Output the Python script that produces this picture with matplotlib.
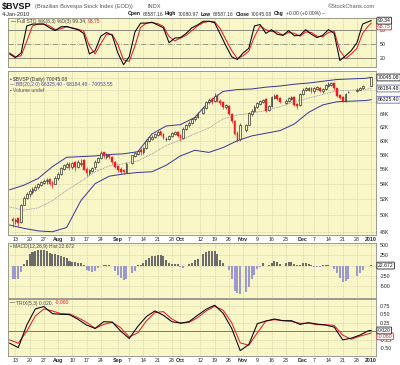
import numpy as np
import pandas as pd
import matplotlib
matplotlib.use('Agg')
import matplotlib.pyplot as plt
import matplotlib.transforms as mtransforms
from matplotlib import font_manager

# ---------------- data ----------------
dates = pd.bdate_range('2009-07-09', '2010-01-04')   # weekday slots; None = no session

opens = [None, 49500, 49300, 49600, 49200, 51300, 52100, 52600, 52900, 53200,
         53500, 53800, 54100, 54300, 54600, 54200, 54000, 54700, 55300, 56000,
         56300, 56700, 56200, 56900, 56300, 56600, 57200, 56000, 55400, 55700,
         56200, 57000, 57500, 58300, 57700, 58000, 57700, 57000, 56400, 56000,
         55900, 55600, None, 56800, 57800, 58100, 58700, 58300, 58900, 60000,
         60300, 60600, 60900, 61400, 61000, 60200, 60300, 60700, 61000, 61300,
         60900, 60400, 61800, 62300, 62700, 63200, 63600, None, 64200, 65000,
         65900, 66400, 66200, 67100, 66100, 65900, 65100, 65300, 64000, 63000,
         61200, 60200, None, 61600, 62400, 64000, 64600, 65200, 65700, 66000,
         66400, 64700, 65300, 66600, 67100, 66600, None, 65800, 66100, 66500,
         66800, 65600, 65400, 67300, 67900, 68000, 68300, 67700, 68100, 68300,
         67700, 68100, 68600, 68800, 69100, 68200, 67100, 66700, 66100, 67550,
         None, None, 67800, 68000, 68300, None, None, 68587.16]
highs = [None, 49800, 49700, 49700, 51400, 52400, 52900, 53300, 53500, 53800,
         54100, 54400, 54600, 54800, 54800, 54400, 55000, 55500, 56300, 56700,
         56900, 56900, 57000, 57100, 57200, 57300, 57400, 56200, 56000, 56300,
         57200, 57700, 58500, 58400, 58200, 58100, 57800, 57100, 56500, 56200,
         56000, 56900, None, 58000, 58400, 58700, 58900, 59100, 60200, 60700,
         60800, 61200, 61500, 61500, 61100, 60600, 60900, 61300, 61500, 61400,
         61000, 62000, 62500, 62900, 63400, 63800, 64300, None, 65200, 66200,
         66600, 66700, 67500, 67200, 66400, 66000, 65700, 65400, 64200, 63100,
         61400, 62600, None, 62500, 64400, 64800, 65400, 66000, 66300, 66500,
         66600, 65500, 66900, 67300, 67200, 66700, None, 66400, 66800, 67000,
         67000, 65800, 67500, 68200, 68500, 68500, 68400, 68400, 68600, 68400,
         68300, 68900, 69200, 69300, 69200, 68300, 67300, 66900, 67400, 67800,
         None, None, 68200, 68400, 68700, None, None, 70080.97]
lows = [None, 48600, 48900, 48700, 49100, 51200, 52000, 52300, 52700, 53000,
        53300, 53700, 53900, 54000, 53800, 53400, 53900, 54500, 55200, 55800,
        56100, 55900, 56000, 55700, 56100, 56400, 55800, 55000, 55100, 55500,
        56000, 56800, 57300, 57500, 57400, 57300, 56700, 56100, 55600, 55300,
        55300, 55400, None, 56600, 57600, 57900, 58000, 58100, 58800, 59800,
        60100, 60400, 60700, 60700, 60200, 59900, 60100, 60500, 60800, 60500,
        59900, 60200, 61600, 62100, 62500, 63000, 63400, None, 64000, 64800,
        65600, 65700, 66000, 65900, 65500, 64900, 64900, 63900, 62600, 60800,
        59800, 60000, None, 61300, 62300, 63800, 64400, 65000, 65500, 65800,
        64300, 64500, 65100, 66400, 66300, 65800, None, 65600, 65900, 66300,
        65300, 64900, 65300, 67100, 67700, 67800, 67500, 67500, 67900, 67600,
        67500, 67900, 68400, 68600, 68000, 66800, 66400, 65900, 65900, 67400,
        None, None, 67600, 67900, 68100, None, None, 68587.16]
closes = [None, 49300, 49400, 49000, 51250, 52200, 52700, 53000, 53300, 53600,
          53900, 54200, 54400, 54500, 54000, 53800, 54800, 55300, 56100, 56500,
          56600, 56200, 56800, 56200, 57000, 56800, 55900, 55400, 55800, 56100,
          57000, 57500, 58200, 57800, 57900, 57600, 56900, 56300, 55900, 55600,
          55500, 56700, None, 57900, 58200, 58500, 58300, 58900, 60000, 60500,
          60600, 61000, 61300, 60900, 60400, 60300, 60700, 61100, 61300, 60700,
          60400, 61800, 62300, 62700, 63200, 63600, 64100, None, 65000, 66000,
          66300, 66000, 67000, 66200, 65800, 65200, 65400, 64100, 62900, 61000,
          60000, 62400, None, 62300, 64200, 64600, 65200, 65800, 66100, 66300,
          64600, 65300, 66700, 67000, 66500, 66000, None, 66200, 66600, 66800,
          65500, 65300, 67300, 68000, 68300, 68200, 67700, 68200, 68400, 67800,
          68100, 68700, 69000, 69100, 68200, 67000, 66600, 66100, 67200, 67600,
          None, None, 68000, 68300, 68588.41, None, None, 70045.08]

# Bollinger Bands (20,2) read every 5th slot plus the last day
bb_upper = [53200, 53800, 54700, 56300, 57600, 57700, 57800, 58000, 58100, 58400,
            61000, 62200, 62400, 63500, 66000, 67700, 68000, 68100, 68400, 68600,
            68900, 69100, 69400, 69700, 69800, 69900, 70053.55]
bb_mid = [51000, 50600, 50900, 51800, 53100, 54300, 55600, 56400, 56700, 57100,
          58100, 59300, 60100, 61000, 61900, 63300, 63900, 64200, 64600, 65200,
          66000, 66600, 67200, 67800, 67900, 68000, 68184.48]
bb_lower = [48800, 48400, 48100, 48000, 48500, 51800, 54000, 55000, 55300, 55500,
            55600, 56500, 57800, 58600, 58300, 59000, 60000, 60700, 61100, 61500,
            62500, 64300, 65500, 66000, 66100, 66200, 66325.40]

# Full Stochastic %K / %D, read every 2nd slot plus the last day
sto_k = [28, 20, 30, 88, 92, 92, 92, 84, 78, 86,
         87, 83, 80, 72, 28, 35, 66, 74, 68, 30,
         5, 22, 75, 94, 94, 96, 90, 84, 52, 62,
         63, 72, 84, 90, 98, 98, 95, 70, 45, 22,
         16, 30, 40, 88, 91, 72, 80, 70, 68, 78,
         67, 68, 80, 70, 63, 68, 80, 72, 14, 24,
         35, 52, 92, 97, 99.34]
sto_d = [30, 22, 24, 55, 88, 92, 92, 88, 80, 82,
         86, 84, 81, 77, 45, 28, 50, 70, 70, 48,
         15, 12, 45, 85, 94, 95, 93, 87, 65, 56,
         62, 68, 78, 88, 95, 98, 97, 82, 58, 35,
         18, 24, 34, 65, 88, 80, 76, 75, 68, 74,
         72, 66, 75, 74, 66, 65, 74, 77, 35, 18,
         28, 40, 72, 88, 93.75]

# MACD(12,26,9) histogram, one bar per session
macd_hist = [None, -320, -320, -320, -150, 40, 134, 275, 330, 354,
             370, 370, 370, 346, 307, 290, 275, 250, 228, 212,
             173, 118, 94, 86, 70, 55, 16, -102, -141, -157,
             -126, -63, -8, 4, 5, 3, -5, -141, -220, -300,
             -354, -322, None, -181, -140, 5, 16, 70, 134, 196,
             228, 244, 250, 250, 236, 134, 55, 47, 47, 40,
             -24, -55, -8, 40, 55, 134, 157, None, 275, 330,
             354, 354, 354, 290, 134, 55, -8, -102, -338, -613,
             -676, -690, None, -652, -534, -338, -220, -86, -24, 70,
             -8, 3, 55, 110, 94, 40, None, 55, 86, 94,
             31, 2, 16, 55, 55, 40, 3, -24, -40, -24,
             2, 16, 8, -8, -86, -181, -300, -400, -377, -322,
             None, None, -260, -181, -118, None, None, 22.672]

# TRIX(5,3) and its signal, read every 3rd slot plus the last day
trix = [-0.36, -0.49, 0.18, 0.66, 0.73, 0.52, 0.50, 0.49, 0.35, 0.18,
        0.08, 0.28, 0.27, 0.00, -0.22, 0.14, 0.43, 0.60, 0.47, 0.28,
        0.24, 0.28, 0.47, 0.65, 0.77, 0.53, 0.08, -0.58, -0.40, 0.22,
        0.30, 0.36, 0.31, 0.31, 0.20, 0.25, 0.21, 0.18, 0.12, -0.26,
        -0.21, -0.12, 0.01, 0.020]
trix_sig = [-0.26, -0.36, 0.0, 0.45, 0.66, 0.60, 0.52, 0.51, 0.40, 0.26,
            0.08, 0.20, 0.26, 0.10, -0.17, -0.05, 0.30, 0.55, 0.58, 0.36,
            0.23, 0.26, 0.40, 0.60, 0.74, 0.62, 0.25, -0.35, -0.42, -0.05,
            0.30, 0.34, 0.31, 0.29, 0.23, 0.24, 0.19, 0.19, 0.17, -0.12,
            -0.24, -0.15, -0.08, -0.060]

tick_dates = ['2009-07-13', '2009-07-20', '2009-07-27', '2009-08-03', '2009-08-10',
              '2009-08-17', '2009-08-24', '2009-09-01', '2009-09-07', '2009-09-14',
              '2009-09-21', '2009-09-28', '2009-10-01', '2009-10-12', '2009-10-19',
              '2009-10-26', '2009-11-02', '2009-11-09', '2009-11-16', '2009-11-23',
              '2009-12-01', '2009-12-07', '2009-12-14', '2009-12-21', '2009-12-28',
              '2010-01-04']
tick_labels = ['13', '20', '27', 'Aug', '10', '17', '24', 'Sep', '7', '14', '21', '28',
               'Oct', '12', '19', '26', 'Nov', '9', '16', '23', 'Dec', '7', '14', '21',
               '28', '2010']
bold_labels = {'Aug', 'Sep', 'Oct', 'Nov', 'Dec', '2010'}
main_ticks = [48000, 50000, 52000, 54000, 56000, 58000, 60000, 62000, 64000, 66000, 68000, 70000]
main_tick_labels = ['48K', '50K', '52K', '54K', '56K', '58K', '60K', '62K', '64K', '', '', '']

# ---------------- fonts ----------------
names = {f.name for f in font_manager.fontManager.ttflist}
NARROW = 'Liberation Sans Narrow' in names
plt.rcParams['font.family'] = (['Liberation Sans Narrow'] if NARROW else ['Liberation Sans']) + ['DejaVu Sans']
K = 1.0 if NARROW else 0.86

# ---------------- styling ----------------
BG = '#f9f7c8'
GRID = '#c6c49c'
RED = '#ee1c24'
BLUE = '#34349a'
W, H = 400, 365

fig = plt.figure(figsize=(W / 100, H / 100), dpi=100)
fig.patch.set_facecolor('white')
renderer = fig.canvas.get_renderer()


def rect(top, bottom, left=8, right=376):
    return [left / W, 1 - bottom / H, (right - left) / W, (bottom - top) / H]


def ftext(x, y, s, **kw):
    kw.setdefault('va', 'center')
    kw.setdefault('ha', 'left')
    return fig.text(x / W, 1 - y / H, s, **kw)


def seq(x0, y, parts, gap=1.6):
    """Lay text pieces out left to right, each after the measured width of the previous."""
    xp = x0
    for s, kw in parts:
        t = ftext(xp, y, s, **kw)
        xp += t.get_window_extent(renderer).width + gap


x_all = np.arange(len(dates))
tick_pos = dates.get_indexer(pd.to_datetime(tick_dates))


def setup(ax, xlabels=False):
    ax.set_facecolor(BG)
    for s in ax.spines.values():
        s.set_color('#8c8c80')
        s.set_linewidth(0.6)
    ax.set_xlim(-0.6, 128.7)
    ax.set_xticks(tick_pos)
    if xlabels:
        ax.set_xticklabels(tick_labels)
        for t, lab in zip(ax.get_xticklabels(), tick_labels):
            if lab in bold_labels:
                t.set_fontweight('bold')
    else:
        ax.set_xticklabels([])
    ax.tick_params(axis='both', length=0, labelsize=4.4 * K, colors='#222222')
    ax.tick_params(axis='x', pad=1.2)
    ax.tick_params(axis='y', pad=2.5)
    ax.yaxis.tick_right()
    ax.grid(True, color=GRID, ls=(0, (1, 1.2)), lw=0.5)
    ax.set_axisbelow(True)


def vbox(ax, val, s, ec, tc='#111111', dy=0.0):
    tr = mtransforms.blended_transform_factory(ax.transAxes, ax.transData)
    ax.annotate(s, xy=(1, val), xycoords=tr, xytext=(1.3, dy), textcoords='offset points',
                fontsize=4.3 * K, color=tc, va='center', ha='left',
                bbox=dict(boxstyle='round,pad=0.18', fc='white', ec=ec, lw=0.6),
                annotation_clip=False, zorder=10)


def idx(sample_dates):
    return dates.get_indexer(pd.DatetimeIndex(sample_dates))


LEG = 4.2 * K

# ---------------- header ----------------
ftext(1.5, 6, '$BVSP', size=7.5 * K, weight='bold', color='#111111')
ftext(35, 6.3, '(Brazilian Bovespa Stock Index (EOD))', size=4.7 * K, color='#555555')
ftext(147, 6.3, 'INDX', size=4.7 * K, color='#555555')
ftext(375, 6.3, '\u00a9StockCharts.com', size=4.7 * K, color='#555555', ha='right')
ftext(1.5, 14, '4-Jan-2010', size=4.6 * K, color='#222222')
HS = 3.65
hb = dict(size=HS, weight='bold', color='#111111')
hn = dict(size=HS, color='#333333')
seq(128, 14, [('Open', hb), ('68587.16', hn), ('High', hb), ('70080.97', hn),
              ('Low', hb), ('68587.16', hn), ('Close', hb), ('70045.08', hn),
              ('Chg', hb), ('+0.00 (+0.00%)', hn), ('\u2013', hn)], gap=1.8)

# ---------------- stochastic panel ----------------
axs = fig.add_axes(rect(18, 67))
setup(axs)
axs.set_ylim(0, 105)
axs.set_yticks([20, 50, 80])
axs.set_yticklabels(['20', '50', '80'])
axs.yaxis.grid(False)
axs.axhline(80, color='#77776a', lw=0.6, zorder=1)
axs.axhline(20, color='#77776a', lw=0.6, zorder=1)
axs.axhline(50, color='#8a8a7a', lw=0.6, ls='-.', zorder=1)
sx = idx(list(dates[::2]) + [dates[-1]])
axs.plot(sx, sto_d, color=RED, lw=0.75, zorder=3)
axs.plot(sx, sto_k, color='black', lw=0.75, zorder=4)
vbox(axs, sto_d[-1], '93.75', RED, tc=RED, dy=-2.3)
vbox(axs, sto_k[-1], '99.34', '#222222')
seq(11, 21.5, [('\u2014', dict(size=LEG, color='black')),
               ('Full STO %K(8,3) %D(3) 99.34,', dict(size=LEG, color='#444444')),
               ('93.75', dict(size=LEG, color=RED))], gap=1.3)

# ---------------- price panel ----------------
axm = fig.add_axes(rect(71, 235))
axm.set_yscale('log')
setup(axm, xlabels=True)
axm.set_ylim(47620, 71165)
axm.set_yticks(main_ticks)
axm.set_yticklabels(main_tick_labels)
axm.minorticks_off()

o = np.array(opens, dtype=float)
h = np.array(highs, dtype=float)
lo = np.array(lows, dtype=float)
c = np.array(closes, dtype=float)
ok = ~np.isnan(c)
up = ok & (c >= o)
dn = ok & (c < o)
axm.vlines(x_all[up], lo[up], h[up], color='#333333', lw=0.5, zorder=3)
axm.vlines(x_all[dn], lo[dn], h[dn], color=RED, lw=0.5, zorder=3)
axm.bar(x_all[up], np.maximum(c[up] - o[up], 30), bottom=o[up], width=0.62,
        facecolor=BG, edgecolor='#333333', lw=0.5, zorder=4)
axm.bar(x_all[dn], o[dn] - c[dn], bottom=c[dn], width=0.62,
        facecolor=RED, edgecolor=RED, lw=0.3, zorder=4)

bx = idx(list(dates[::5]) + [dates[-1]])
axm.plot(bx, bb_upper, color=BLUE, lw=0.7, zorder=2)
axm.plot(bx, bb_lower, color=BLUE, lw=0.7, zorder=2)
axm.plot(bx, bb_mid, color='#8585a5', lw=0.6, ls=(0, (1, 1)), zorder=2)
vbox(axm, bb_lower[-1], '66325.40', '#6a6aa8')
vbox(axm, bb_mid[-1], '68184.48', '#6a6aa8')
vbox(axm, closes[-1], '70045.08', '#222222')
seq(10, 79, [('\u25aa', dict(size=LEG, color='#333333')),
             ('$BVSP (Daily) 70045.08', dict(size=LEG, color='#333333'))], gap=1.0)
seq(10, 84.5, [('\u2014', dict(size=LEG, color=BLUE)),
               ('BB(20,2.0) 66325.40 - 68184.48 - 70053.55', dict(size=LEG, color='#4a4aa0'))], gap=1.0)
seq(10, 90, [('\u25aa', dict(size=LEG, color='#555555')),
             ('Volume undef', dict(size=LEG, color='#555555'))], gap=1.0)

# ---------------- MACD panel ----------------
axc = fig.add_axes(rect(243, 298))
setup(axc)
axc.set_ylim(-790, 550)
axc.set_yticks([-500, -250, 0, 250, 500])
axc.set_yticklabels(['-500', '-250', '', '250', '500'])
mh = np.array(macd_hist, dtype=float)
okm = ~np.isnan(mh)
pos = okm & (mh >= 0)
neg = okm & (mh < 0)
axc.bar(x_all[pos], mh[pos], width=0.72, color='#6c6c6c', lw=0, zorder=3)
axc.bar(x_all[neg], mh[neg], width=0.72, color='#9b99d0', lw=0, zorder=3)
vbox(axc, 0, '22.672', '#222222')
seq(10, 246.5, [('\u25aa', dict(size=LEG, color='#555555')),
                ('MACD(12,26,9) Hist 22.672', dict(size=LEG, color='#444444'))], gap=1.0)

# ---------------- TRIX panel ----------------
axt = fig.add_axes(rect(298.5, 356))
setup(axt, xlabels=True)
axt.set_ylim(-0.74, 0.97)
axt.set_yticks([-0.5, -0.25, 0, 0.25, 0.5, 0.75])
axt.set_yticklabels(['-0.50', '-0.25', '', '0.25', '0.50', '0.75'])
axt.axhline(0, color='#7a7a6e', lw=0.7, zorder=1)
tx = idx(list(dates[::3]) + [dates[-1]])
axt.plot(tx, trix_sig, color=RED, lw=0.75, zorder=3)
axt.plot(tx, trix, color='black', lw=0.75, zorder=4)
vbox(axt, trix_sig[-1], '-0.060', RED, tc=RED, dy=-2.3)
vbox(axt, trix[-1], '0.020', '#222222')
seq(10, 303, [('\u2014', dict(size=LEG, color='black')),
              ('TRIX(5,3) 0.020,', dict(size=LEG, color='#444444')),
              ('-0.060', dict(size=LEG, color=RED))], gap=1.3)

fig.savefig('out.png', dpi=100, facecolor='white')
